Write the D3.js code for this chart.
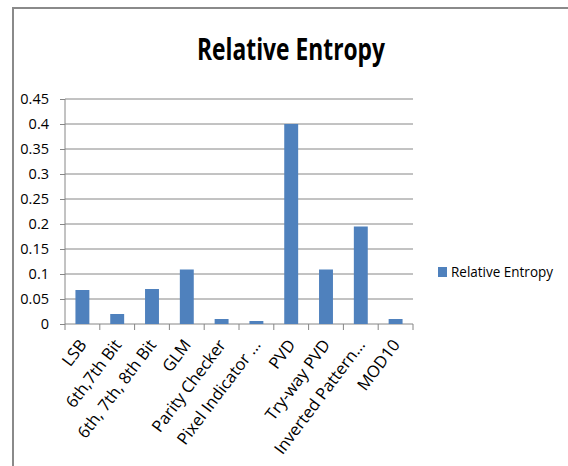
<!DOCTYPE html>
<html>
<head>
<meta charset="utf-8">
<script src="https://cdn.jsdelivr.net/npm/d3@7"></script>
<style>
  body { margin: 0; background: #fff; }
  text { font-family: "Open Sans", Arial, sans-serif; fill: #000; }
</style>
</head>
<body>
<div id="chart"></div>
<script>
// data
const categories = ["LSB", "6th,7th Bit", "6th, 7th, 8th Bit", "GLM", "Parity Checker",
  "Pixel  Indicator ...", "PVD", "Try-way PVD", "Inverted Pattern...", "MOD10"];
const entropy = [0.068, 0.02, 0.07, 0.109, 0.01, 0.006, 0.4, 0.109, 0.195, 0.01];
const yTicks = [0, 0.05, 0.1, 0.15, 0.2, 0.25, 0.3, 0.35, 0.4, 0.45];
const seriesName = "Relative Entropy";

const width = 568, height = 466;
const svg = d3.select("#chart").append("svg")
  .attr("width", width).attr("height", height);

// squeeze / stretch text to look like the narrow Calibri of the original
const fitText = (sel, factor) => sel.each(function () {
  const len = this.getComputedTextLength();
  d3.select(this).attr("textLength", len * factor).attr("lengthAdjust", "spacingAndGlyphs");
});

// chart frame
svg.append("path")
  .attr("d", "M13,470 L13,8 L570,8")
  .attr("fill", "none").attr("stroke", "#8a8a8a").attr("stroke-width", 2);

const x = d3.scaleBand().domain(categories).range([65, 413]).paddingInner(0.6).paddingOuter(0.3);
const y = d3.scaleLinear().domain([0, 0.45]).range([324, 99]);

// gridlines
svg.append("g").selectAll("line").data(yTicks.filter(d => d > 0)).enter().append("line")
  .attr("x1", 65).attr("x2", 413)
  .attr("y1", d => y(d)).attr("y2", d => y(d))
  .attr("stroke", "#868686");

// y axis
const yAxis = svg.append("g").attr("transform", "translate(65,0)")
  .call(d3.axisLeft(y).tickValues(yTicks).tickSize(5).tickPadding(11)
    .tickFormat(d => d === 0 ? "0" : String(+d.toFixed(2))));
yAxis.select(".domain").attr("stroke", "#868686").attr("d", "M0,99V324");
yAxis.selectAll(".tick line").attr("stroke", "#868686");
yAxis.selectAll(".tick text").style("font-size", "14.5px");

// x axis line + ticks between categories
svg.append("line").attr("x1", 65).attr("x2", 413).attr("y1", 324).attr("y2", 324)
  .attr("stroke", "#868686");
svg.append("g").selectAll("line").data(d3.range(categories.length + 1)).enter().append("line")
  .attr("x1", i => 65 + i * (348 / categories.length))
  .attr("x2", i => 65 + i * (348 / categories.length))
  .attr("y1", 324).attr("y2", 330).attr("stroke", "#868686");

// bars
svg.append("g").selectAll("rect").data(entropy).enter().append("rect")
  .attr("x", (d, i) => x(categories[i]))
  .attr("width", x.bandwidth())
  .attr("y", d => y(d))
  .attr("height", d => y(0) - y(d))
  .attr("fill", "#4f81bd");

// category labels
svg.append("g").selectAll("text").data(categories).enter().append("text")
  .attr("transform", d => `translate(${x(d) + x.bandwidth() / 2 + 5},${345}) rotate(-53)`)
  .attr("text-anchor", "end")
  .style("font-size", "16.5px")
  .text(d => d)
  .call(fitText, 1.0);

// title
svg.append("text")
  .attr("x", 291).attr("y", 60)
  .attr("text-anchor", "middle")
  .style("font-size", "30px").style("font-weight", "bold")
  .attr("textLength", 188).attr("lengthAdjust", "spacingAndGlyphs")
  .text("Relative Entropy");

// legend
svg.append("rect").attr("x", 438).attr("y", 267).attr("width", 9).attr("height", 10).attr("fill", "#4f81bd");
svg.append("text").attr("x", 451).attr("y", 277)
  .style("font-size", "15px")
  .attr("textLength", 102).attr("lengthAdjust", "spacingAndGlyphs")
  .text(seriesName);
</script>
</body>
</html>
